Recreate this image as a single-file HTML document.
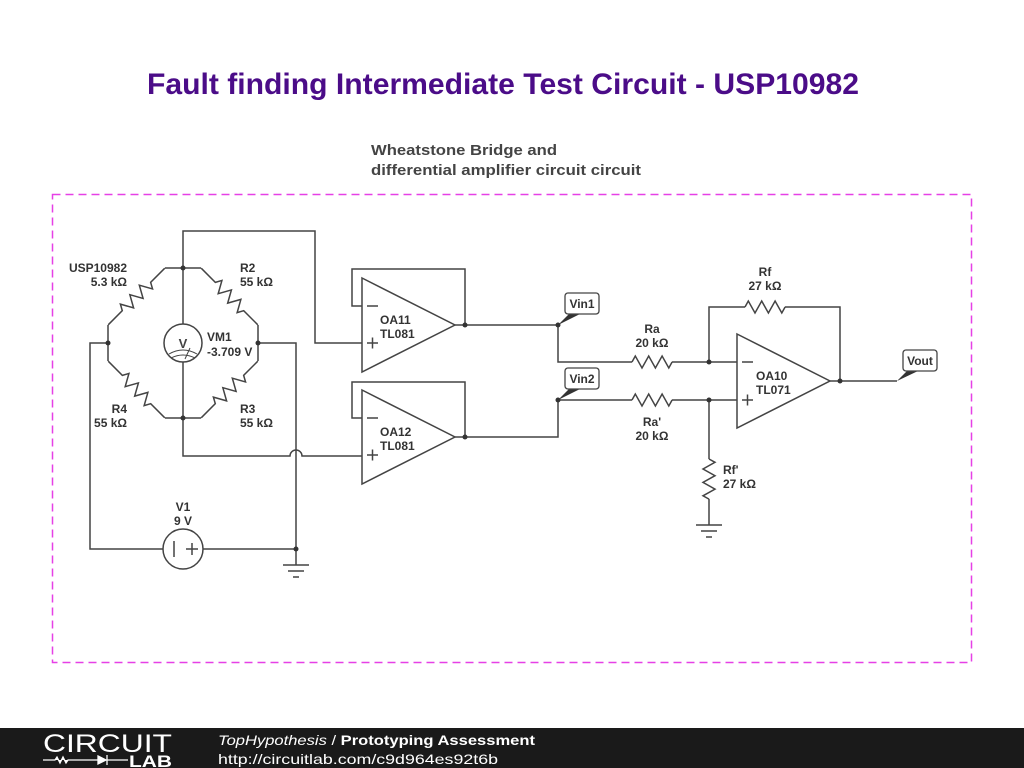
<!DOCTYPE html>
<html><head><meta charset="utf-8"><style>
html,body{margin:0;padding:0;background:#fff;}
svg{display:block;}
text{font-family:"Liberation Sans",Arial,sans-serif;}
.l{font-size:12px;font-weight:bold;fill:#333;}
</style></head><body>
<svg width="1024" height="768" viewBox="0 0 1024 768">
<defs>
<path id="res" d="M-40,0 H-20 l3.3,-6 l6.7,12 l6.7,-12 l6.7,12 l6.7,-12 l6.7,12 l3.3,-6 H40" fill="none" stroke="#444" stroke-width="1.5"/>
<path id="rs" d="M-20,0 l3.3,-6 l6.7,12 l6.7,-12 l6.7,12 l6.7,-12 l6.7,12 l3.3,-6" fill="none" stroke="#444" stroke-width="1.5"/>
</defs>
<text x="503" y="94" text-anchor="middle" font-size="30" font-weight="bold" fill="#4b0c88" textLength="712" lengthAdjust="spacingAndGlyphs">Fault finding Intermediate Test Circuit - USP10982</text>
<text x="371" y="155" font-size="15" font-weight="bold" fill="#444" textLength="186" lengthAdjust="spacingAndGlyphs">Wheatstone Bridge and</text>
<text x="371" y="175" font-size="15" font-weight="bold" fill="#444" textLength="270" lengthAdjust="spacingAndGlyphs">differential amplifier circuit circuit</text>
<rect x="52.5" y="194.5" width="919" height="468" fill="none" stroke="#e640e6" stroke-width="1.5" stroke-dasharray="8,5"/>

<g fill="none" stroke="#444" stroke-width="1.5">
<path d="M165,268 H201 M108,325 V361 M258,325 V361 M165,418 H201"/>
<path d="M183,268 V324 M183,362 V418"/>
<path d="M183,268 V231 H315 V343 H362"/>
<path d="M108,343 H90 V549 H163 M203,549 H296 V343 H258"/>
<path d="M183,418 V456 H290 A6,6 0 0 1 302,456 H362"/>
<path d="M296,549 V565 M283,565 H309 M288,571 H304 M293,577 H299"/>
<path d="M362,278 L455,325 L362,372 Z"/>
<path d="M362,306 H352 V269 H465 V325 M455,325 H558 V362 H632"/>
<path d="M362,390 L455,437 L362,484 Z"/>
<path d="M362,418 H352 V382 H465 V437 M455,437 H558 V400 H632"/>
<path d="M737,334 L830,381 L737,428 Z"/>
<path d="M672,362 H737 M672,400 H737 M709,362 V307 H745 M785,307 H840 V381 M830,381 H897"/>
<path d="M709,400 V459 M709,499 V525 M696,525 H722 M701,531 H717 M706,537 H712"/>
<circle cx="183" cy="549" r="20"/>
<path d="M174,541 V557 M186,549 H198 M192,543 V555"/>
<circle cx="183" cy="343" r="19"/>
<path d="M169,354 Q183,346 197,354 M171,358 Q183,352 195,358" stroke-width="1"/>
<path d="M185,359 L190,348" stroke-width="1"/>
<path d="M367,306 H378 M367,343 H378 M372.5,337.5 V348.5"/>
<path d="M367,418 H378 M367,455 H378 M372.5,449.5 V460.5"/>
<path d="M742,362 H753 M742,400 H753 M747.5,394.5 V405.5"/>
</g>
<g>
<use href="#res" transform="translate(136.5,296.5) rotate(135)"/>
<use href="#res" transform="translate(229.5,296.5) rotate(45)"/>
<use href="#res" transform="translate(136.5,389.5) rotate(45)"/>
<use href="#res" transform="translate(229.5,389.5) rotate(135)"/>
<use href="#rs" transform="translate(652,362)"/>
<use href="#rs" transform="translate(652,400)"/>
<use href="#rs" transform="translate(765,307)"/>
<use href="#rs" transform="translate(709,479) rotate(90)"/>
</g>
<text x="183" y="348" text-anchor="middle" font-size="13" font-weight="bold" fill="#444">V</text>
<g fill="#333">
<circle cx="183" cy="268" r="2.5"/><circle cx="183" cy="418" r="2.5"/>
<circle cx="108" cy="343" r="2.5"/><circle cx="258" cy="343" r="2.5"/>
<circle cx="296" cy="549" r="2.5"/><circle cx="465" cy="325" r="2.5"/>
<circle cx="465" cy="437" r="2.5"/><circle cx="558" cy="325" r="2.5"/>
<circle cx="558" cy="400" r="2.5"/><circle cx="709" cy="362" r="2.5"/>
<circle cx="709" cy="400" r="2.5"/><circle cx="840" cy="381" r="2.5"/>
<path d="M558,325 L569,314 L580,314 Z"/>
<path d="M558,400 L569,389 L580,389 Z"/>
<path d="M897,381 L907,371 L918,371 Z"/>
</g>
<g fill="#fff" stroke="#444" stroke-width="1.3">
<rect x="565" y="293" width="34" height="21" rx="3"/>
<rect x="565" y="368" width="34" height="21" rx="3"/>
<rect x="903" y="350" width="34" height="21" rx="3"/>
</g>
<g class="l">
<text x="582" y="308" text-anchor="middle">Vin1</text>
<text x="582" y="383" text-anchor="middle">Vin2</text>
<text x="920" y="365" text-anchor="middle">Vout</text>
<text x="127" y="272" text-anchor="end">USP10982</text>
<text x="127" y="286" text-anchor="end">5.3 kΩ</text>
<text x="240" y="272">R2</text><text x="240" y="286">55 kΩ</text>
<text x="127" y="413" text-anchor="end">R4</text><text x="127" y="427" text-anchor="end">55 kΩ</text>
<text x="240" y="413">R3</text><text x="240" y="427">55 kΩ</text>
<text x="207" y="341">VM1</text><text x="207" y="356">-3.709 V</text>
<text x="183" y="511" text-anchor="middle">V1</text><text x="183" y="525" text-anchor="middle">9 V</text>
<text x="380" y="324">OA11</text><text x="380" y="338">TL081</text>
<text x="380" y="436">OA12</text><text x="380" y="450">TL081</text>
<text x="756" y="380">OA10</text><text x="756" y="394">TL071</text>
<text x="652" y="333" text-anchor="middle">Ra</text><text x="652" y="347" text-anchor="middle">20 kΩ</text>
<text x="652" y="426" text-anchor="middle">Ra'</text><text x="652" y="440" text-anchor="middle">20 kΩ</text>
<text x="765" y="276" text-anchor="middle">Rf</text><text x="765" y="290" text-anchor="middle">27 kΩ</text>
<text x="723" y="474">Rf'</text><text x="723" y="488">27 kΩ</text>
</g>
<rect x="0" y="728" width="1024" height="40" fill="#1a1a1a"/>
<text x="43" y="752" font-size="25" fill="#fff" textLength="129" lengthAdjust="spacingAndGlyphs">CIRCUIT</text>
<path d="M43,760 H55 l2,-3 l3,6 l3,-6 l3,6 l2,-3 H98 M98,756 L106,760 L98,764 Z M107,755 V765 M107,760 H128" stroke="#fff" stroke-width="1.3" fill="#fff"/>
<text x="129" y="767" font-size="17" font-weight="bold" fill="#fff" textLength="43" lengthAdjust="spacingAndGlyphs">LAB</text>
<text x="218" y="745" font-size="14" fill="#fff" textLength="317" lengthAdjust="spacingAndGlyphs"><tspan font-style="italic">TopHypothesis</tspan> / <tspan font-weight="bold">Prototyping Assessment</tspan></text>
<text x="218" y="764" font-size="14" fill="#fff" textLength="280" lengthAdjust="spacingAndGlyphs">http://circuitlab.com/c9d964es92t6b</text>
</svg>
</body></html>
